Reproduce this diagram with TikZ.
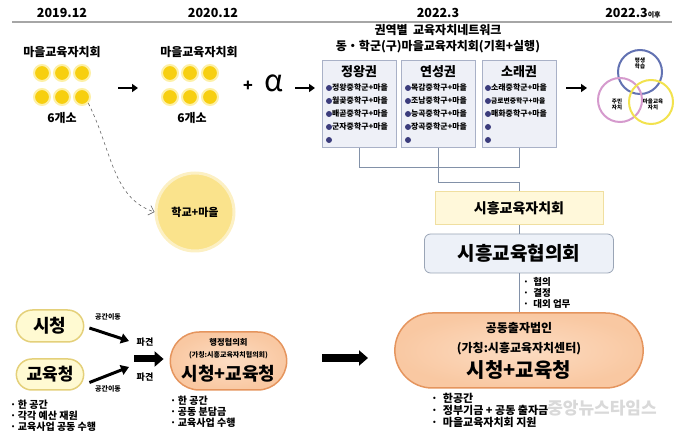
\documentclass[tikz,border=0pt]{standalone}
\usepackage{fontspec}
\setmainfont{Noto Sans CJK KR}
\usetikzlibrary{arrows.meta,shapes.misc}

\definecolor{dotyellow}{HTML}{F7CF10}
\definecolor{dotglow}{HTML}{FDF0A8}
\definecolor{schoolfill}{HTML}{FAE38C}
\definecolor{schoolglow}{HTML}{FCF0C4}
\definecolor{regionfill}{HTML}{EEF0F7}
\definecolor{regionline}{HTML}{A9B1C7}
\definecolor{navydot}{HTML}{3B3C7C}
\definecolor{linkgray}{HTML}{8291A8}
\definecolor{councilfill}{HTML}{FFF8DA}
\definecolor{councilline}{HTML}{F0DFA0}
\definecolor{boardfill}{HTML}{EDF1F8}
\definecolor{boardline}{HTML}{9AA5B6}
\definecolor{peachfill}{HTML}{F9C8A2}
\definecolor{peachin}{HTML}{FCDCC2}
\definecolor{peachline}{HTML}{E5955E}
\definecolor{creamfill}{HTML}{FFFAD2}
\definecolor{creamline}{HTML}{E4D07A}
\definecolor{ringblue}{HTML}{6272B2}
\definecolor{ringpink}{HTML}{D59ACD}
\definecolor{ringyellow}{HTML}{F2E24E}

\tikzset{
  yearlabel/.style={font=\bfseries\fontsize{12.5}{14}\selectfont},
  titletext/.style={font=\bfseries\fontsize{12}{14}\selectfont},
  yellowdot/.style={circle,fill=dotyellow,draw=dotglow,line width=2pt,minimum size=16pt,inner sep=0pt},
  regionbox/.style={draw=regionline,fill=regionfill,line width=0.8pt,minimum width=74pt,minimum height=87pt,anchor=north},
  regiontitle/.style={font=\bfseries\fontsize{13}{15}\selectfont},
  regionitem/.style={font=\bfseries\fontsize{7.9}{8}\selectfont,anchor=west,inner sep=0pt},
  link/.style={draw=linkgray,line width=0.9pt},
  shortar/.style={line width=2.6pt,-{Triangle[length=6pt,width=8pt]}},
  pushar/.style={line width=3pt,-{Triangle[length=8pt,width=10pt]}},
  bigar/.style={line width=7pt,-{Triangle[length=9pt,width=15pt]}},
  stadium/.style={rounded rectangle,line width=1.5pt},
  notes/.style={font=\bfseries\fontsize{10}{11}\selectfont,align=left,anchor=north west,inner sep=0pt},
  ring/.style={line width=2pt},
  ringtext/.style={font=\bfseries\fontsize{5.5}{6}\selectfont,align=center,inner sep=0pt}
}

\begin{document}
\begin{tikzpicture}[x=1pt,y=-1pt]
\useasboundingbox (0,0) rectangle (680,435);

% years
\node[yearlabel] (y1) at (62,13) {2019.12};
\node[yearlabel] (y2) at (213,13) {2020.12};
\node[yearlabel] (y3) at (438,13) {2022.3};
\node[yearlabel] (y4) at (633,13) {2022.3{\fontsize{7}{8}\selectfont 이후}};
\draw[gray!70,line width=1.5pt] (12,22) -- (672,22);

% first two stages
\node[titletext] (g1) at (62,52) {마을교육자치회};
\node[titletext] (g2) at (199,52) {마을교육자치회};
\foreach \x in {42,62,82}
  \foreach \y in {73,97}
    \node[yellowdot] (da-\x-\y) at (\x,\y) {};
\foreach \x in {170,190,210}
  \node[yellowdot] (db-\x-73) at (\x,73) {};
\foreach \x in {170,190,210}
  \node[yellowdot] (db-\x-97) at (\x,97) {};
\node[titletext] (c1) at (62,118) {6개소};
\node[titletext] (c2) at (192,118) {6개소};
\node[font=\bfseries\fontsize{16}{18}\selectfont] (plus) at (248,86) {+};
\node[font=\fontsize{30}{32}\selectfont] (alpha) at (274,83) {α};

\coordinate (a1s) at (118,88); \coordinate (a1e) at (138,88);
\coordinate (a2s) at (295,88); \coordinate (a2e) at (315,88);
\coordinate (a3s) at (566,88); \coordinate (a3e) at (587,88);
\draw[shortar] (a1s) -- (a1e);
\draw[shortar] (a2s) -- (a2e);
\draw[shortar] (a3s) -- (a3e);

% school + village
\node[circle,fill=schoolfill,draw=schoolglow,line width=3pt,minimum size=78pt,font=\bfseries\fontsize{11}{13}\selectfont] (school) at (195,212) {학교+마을};
\draw[dashed,gray!80!black,line width=0.6pt,-{Straight Barb[length=5pt]}] (da-82-97.south east) .. controls (112,150) and (112,198) .. (school.west);

% region network
\node[titletext] (net1) at (438,30) {권역별\ \ 교육자치네트워크};
\node[titletext] (net2) at (438,47) {동・학군(구)마을교육자치회(기획+실행)};

\node[regionbox] (jw) at (359,60) {};
\node[regionbox] (ys) at (438,60) {};
\node[regionbox] (sr) at (519,60) {};
\node[regiontitle] (jwt) at (359,72) {정왕권};
\node[regiontitle] (yst) at (438,72) {연성권};
\node[regiontitle] (srt) at (519,72) {소래권};
\foreach \t [count=\i] in {정왕중학군+마을,월곶중학구+마을,배곧중학구+마을,군자중학구+마을,{}} {
  \fill[navydot] (329,75+13*\i) circle[radius=3pt];
  \node[regionitem] (jwi\i) at (332,75+13*\i) {\t};
}
\foreach \t [count=\i] in {목감중학구+마을,조남중학구+마을,능곡중학구+마을,장곡중학군+마을,{}} {
  \fill[navydot] (408,75+13*\i) circle[radius=3pt];
  \node[regionitem] (ysi\i) at (411,75+13*\i) {\t};
}
\foreach \t [count=\i] in {소래중학군+마을,{\fontsize{6.8}{7}\selectfont 금로변중학구+마을},매화중학구+마을,{},{}} {
  \fill[navydot] (488,75+13*\i) circle[radius=3pt];
  \node[regionitem] (sri\i) at (491,75+13*\i) {\t};
}

% councils
\node[draw=councilline,fill=councilfill,line width=1pt,minimum width=168pt,minimum height=33pt,font=\bfseries\fontsize{14}{16}\selectfont] (hjc) at (519,208.5) {시흥교육자치회};
\node[draw=boardline,fill=boardfill,line width=0.8pt,rounded corners=6pt,minimum width=189pt,minimum height=39pt,font=\bfseries\fontsize{19}{21}\selectfont] (hyh) at (519,253.5) {시흥교육협의회};
\draw[link] (jw.south) -- ++(0,20) -| (sr.south);
\draw[link] (ys.south) -- ++(0,35) -| (hjc.north);
\draw[link] (hjc) -- (hyh);

% corporation
\node[stadium,draw=peachline,inner color=peachin,outer color=peachfill,minimum width=255pt,minimum height=75pt] (corp) at (519,350.5) {};
\draw[link] (hyh.south) -- (corp.north);
\node[notes,font=\bfseries\fontsize{9.5}{11}\selectfont] (duty) at (523,277) {·\ \ 협의\\·\ \ 결정\\·\ \ 대외\ 업무};
\node[titletext] (corpA) at (519,328) {공동출자법인};
\node[titletext] (corpB) at (519,349) {(가칭:시흥교육자치센터)};
\node[font=\bfseries\fontsize{20}{22}\selectfont] (corpC) at (519,370) {시청+교육청};
\node[notes,font=\bfseries\fontsize{11}{12}\selectfont] (noteC) at (431,393) {·\ \ 한공간\\·\ \ 정부기금\ +\ 공동\ 출자금\\·\ \ 마을교육자치회\ 지원};

% city hall and education office
\node[stadium,draw=creamline,fill=creamfill,minimum width=74pt,minimum height=32pt,font=\bfseries\fontsize{18}{20}\selectfont] (sc) at (50,326) {시청};
\node[stadium,draw=creamline,fill=creamfill,minimum width=74pt,minimum height=31pt,font=\bfseries\fontsize{17}{19}\selectfont] (edu) at (50,374.5) {교육청};
\node[font=\bfseries\fontsize{7}{8}\selectfont] (mv1) at (108,317) {공간이동};
\node[font=\bfseries\fontsize{7}{8}\selectfont] (mv2) at (108,389) {공간이동};
\node[font=\bfseries\fontsize{9}{10}\selectfont] (dp1) at (145,342) {파견};
\node[font=\bfseries\fontsize{9}{10}\selectfont] (dp2) at (145,377) {파견};
\coordinate (sendA) at (129,341);
\coordinate (sendB) at (129,367);
\draw[pushar] ([xshift=5pt,yshift=-2pt]sc.east) -- (sendA);
\draw[pushar] ([xshift=5pt,yshift=-8pt]edu.east) -- (sendB);
\node[notes] (noteA) at (10,400) {·\,한\ 공간\\·\,각각\ 예산\ 재원\\·\,교육사업\ 공동\ 수행};

% administrative council
\node[stadium,draw=peachline,inner color=peachin,outer color=peachfill,minimum width=123pt,minimum height=58pt] (hj) at (228.5,361) {};
\node[font=\bfseries\fontsize{8.3}{9}\selectfont] (hjA) at (228.5,342) {행정협의회};
\node[font=\bfseries\fontsize{7}{8}\selectfont] (hjB) at (228.5,355) {(가칭:시흥교육자치협의회)};
\node[font=\bfseries\fontsize{18}{20}\selectfont] (hjC) at (228.5,374) {시청+교육청};
\node[notes] (noteB) at (170,396) {·\,한\ 공간\\·\,공동\ 분담금\\·\,교육사업\ 수행};
\coordinate (m1) at (134,359);
\draw[bigar] (m1) -- ([xshift=-6pt]hj.west |- m1);
\coordinate (bigA) at (322,358);
\coordinate (bigB) at (368,358);
\draw[bigar,line width=8pt] (bigA) -- (bigB);

% three circles
\draw[ring,ringblue] (640,72) circle[radius=22pt];
\draw[ring,ringpink] (620,100) circle[radius=22pt];
\draw[ring,ringyellow] (651,102) circle[radius=22pt];
\node[ringtext] (ll) at (640,63) {평생\\학습};
\node[ringtext] (jm) at (617,104) {주민\\자치};
\node[ringtext] (mg) at (653,104) {마을교육\\자치};

% watermark
\node[font=\bfseries\fontsize{17}{19}\selectfont,text=gray!35,opacity=0.85] (wm) at (602,408) {중앙뉴스타임스};
\end{tikzpicture}
\end{document}
